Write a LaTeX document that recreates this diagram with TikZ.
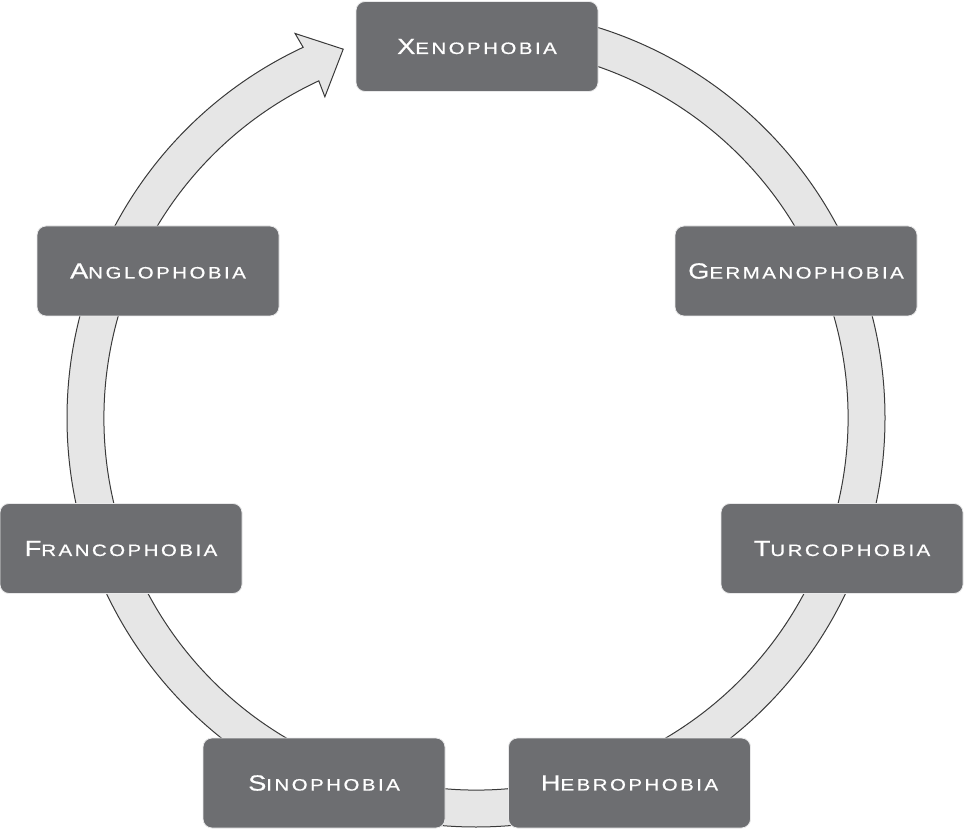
\documentclass[tikz,border=0pt]{standalone}
\usepackage{fontspec}
\newfontfamily\boxfont[FakeStretch=1.24,LetterSpace=15,FakeBold=0.6]{Liberation Sans}
\newcommand\fakesc[2]{{\fontsize{22}{22}\selectfont #1}{\fontsize{16.5}{16.5}\selectfont #2}}
\definecolor{boxgray}{HTML}{6D6E71}
\definecolor{ringfill}{HTML}{E6E6E6}
\definecolor{ringline}{HTML}{3A3A3A}
\tikzset{
  phobox/.style={draw=white!85!boxgray, line width=0.8pt, fill=boxgray, rounded corners=9pt,
    minimum width=242pt, minimum height=90pt, inner sep=0pt, text=white, font=\boxfont},
  ring/.style={draw=ringline, line width=1pt, fill=ringfill, line join=miter}
}
\begin{document}
\begin{tikzpicture}[x=1pt,y=1pt]
\useasboundingbox (0,0) rectangle (965,830);
% ring arrow behind the boxes
\begin{scope}[shift={(476,412)}]
\path[ring] (90:409) arc[start angle=90, end angle=-245, radius=409]
  -- (-244.8:425) -- (-250.2:392) -- (-244.8:355) -- (-245:372)
  arc[start angle=-245, end angle=90, radius=372] -- cycle;
\end{scope}
\node[phobox] (xeno)  at (477,783.5) {\fakesc{X}{ENOPHOBIA}};
\node[phobox] (germ)  at (796,559)   {\fakesc{G}{ERMANOPHOBIA}};
\node[phobox] (turc)  at (842,281.5) {\fakesc{T}{URCOPHOBIA}};
\node[phobox] (hebr)  at (629.5,47)  {\fakesc{H}{EBROPHOBIA}};
\node[phobox] (sino)  at (324,47)    {\fakesc{S}{INOPHOBIA}};
\node[phobox] (franc) at (121,281.5) {\fakesc{F}{RANCOPHOBIA}};
\node[phobox] (angl)  at (158,559)   {\fakesc{A}{NGLOPHOBIA}};
\end{tikzpicture}
\end{document}
